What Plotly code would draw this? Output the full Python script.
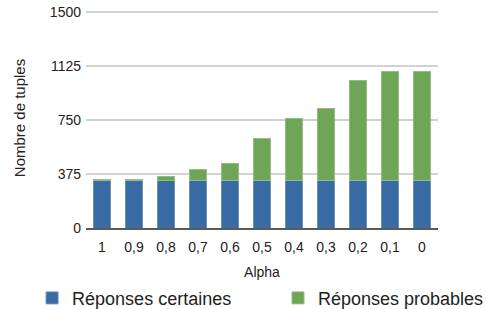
import plotly.graph_objects as go

alpha = ["1", "0,9", "0,8", "0,7", "0,6", "0,5", "0,4", "0,3", "0,2", "0,1", "0"]
certaines = [330, 330, 330, 330, 330, 330, 330, 330, 330, 330, 330]
probables = [4, 10, 28, 77, 117, 294, 430, 499, 697, 755, 755]
yticks = [0, 375, 750, 1125, 1500]

fig = go.Figure()
fig.add_trace(go.Bar(x=alpha, y=certaines, name="Réponses certaines", legend="legend",
                     marker=dict(color="#3A6AA3", line=dict(color="#6A92C2", width=1))))
fig.add_trace(go.Bar(x=alpha, y=probables, name="Réponses probables", legend="legend2",
                     marker=dict(color="#6EA558", line=dict(color="#93C080", width=1))))

leg_common = dict(orientation="h", xref="container", yref="container",
                  xanchor="left", y=0.035, yanchor="middle", font=dict(size=18),
                  bgcolor="rgba(0,0,0,0)")

fig.update_layout(
    barmode="stack",
    bargap=0.44,
    width=486, height=309,
    margin=dict(l=86, r=48, t=8, b=81, autoexpand=False),
    paper_bgcolor="white", plot_bgcolor="white",
    font=dict(family="Liberation Sans, Arial, sans-serif", size=14, color="#222222"),
    showlegend=True,
    legend=dict(x=0.066, **leg_common),
    legend2=dict(x=0.572, **leg_common),
    xaxis=dict(title=dict(text="Alpha", font=dict(size=14), standoff=22),
               showgrid=False, ticks="", tickfont=dict(size=14), ticklabelstandoff=5,
               showline=True, linecolor="#5A5A5A", linewidth=2),
    yaxis=dict(title=dict(text="Nombre de tuples", font=dict(size=15), standoff=20),
               range=[0, 1530], tickvals=yticks, ticktext=[str(v) for v in yticks],
               showgrid=True, gridcolor="#D2D2D2", gridwidth=2, ticklabelstandoff=4,
               zeroline=False, ticks="", tickfont=dict(size=14)),
)

fig.write_html("out.html", config={"displayModeBar": False},
               post_script="document.body.style.margin='0';")
